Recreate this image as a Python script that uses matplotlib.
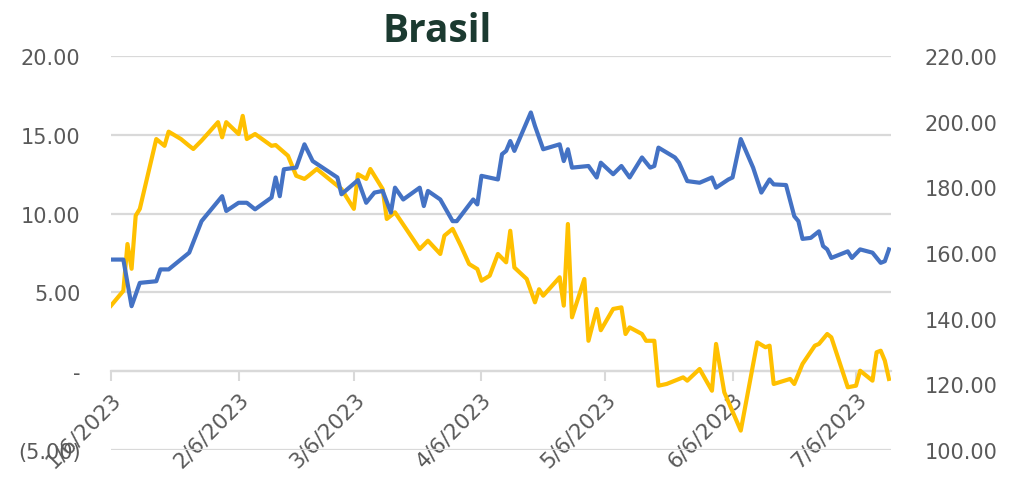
import matplotlib
matplotlib.use("Agg")
import matplotlib.pyplot as plt
import matplotlib.dates as mdates
from matplotlib.ticker import FuncFormatter, MultipleLocator
import numpy as np
import pandas as pd

start = pd.Timestamp("2023-01-06")

# yellow series (left axis) - days after 1/6/2023 and values
yellow_day = [0, 3, 4, 5, 6, 7, 11, 13, 14, 17, 19, 20, 22, 26, 27, 28, 31, 32, 33, 35,
              39, 40, 43, 45, 47, 48, 50, 54, 56, 59, 60, 62, 63, 66, 67, 69, 75, 77, 80, 81,
              83, 85, 87, 89, 90, 92, 94, 96, 97, 98, 101, 103, 104, 105, 109, 110, 111, 112,
              115, 116, 118, 119, 122, 124, 125, 126, 129, 130, 132, 133, 135, 139, 140, 143,
              146, 147, 149, 153, 157, 159, 160, 161, 165, 166, 168, 171, 172, 174, 175, 179,
              181, 182, 185, 186, 187, 188, 189]
yellow_val = [4.16, 5.1, 8.07, 6.5, 9.87, 10.3, 14.73, 14.3, 15.2, 14.73, 14.3, 14.1, 14.63,
              15.8, 14.84, 15.8, 15.05, 16.2, 14.73, 15.05, 14.3, 14.35, 13.67, 12.4, 12.2,
              12.4, 12.83, 11.98, 11.56, 10.3, 12.5, 12.2, 12.83, 11.56, 9.66, 10.08, 7.75,
              8.28, 7.44, 8.6, 9.03, 7.96, 6.8, 6.48, 5.74, 6.06, 7.44, 6.91, 8.91, 6.58, 5.85,
              4.37, 5.2, 4.79, 5.96, 4.16, 9.34, 3.42, 5.85, 1.93, 3.95, 2.6, 3.95, 4.05, 2.36,
              2.78, 2.36, 1.93, 1.93, -0.92, -0.81, -0.39, -0.6, 0.14, -1.24, 1.73, -1.34,
              -3.77, 1.83, 1.52, 1.62, -0.81, -0.49, -0.81, 0.46, 1.62, 1.73, 2.36, 2.15,
              -1.02, -0.92, 0.03, -0.6, 1.2, 1.3, 0.67, -0.49]

# blue series (right axis)
blue_day = [0, 3, 5, 7, 11, 12, 14, 19, 22, 27, 28, 31, 33, 35, 39, 40, 41, 42, 45, 47, 49,
            55, 56, 60, 62, 64, 66, 68, 69, 71, 75, 76, 77, 80, 83, 84, 88, 89, 90, 94, 95,
            96, 97, 98, 102, 103, 105, 109, 110, 111, 112, 116, 118, 119, 122, 124, 126, 129,
            131, 132, 133, 137, 138, 140, 143, 146, 147, 150, 151, 153, 156, 158, 160, 161,
            164, 166, 167, 168, 170, 172, 173, 174, 175, 179, 180, 182, 185, 187, 188, 189]
blue_val = [158.0, 158.0, 143.8, 150.9, 151.4, 155.0, 155.0, 160.1, 169.7, 177.3, 172.8,
            175.3, 175.3, 173.3, 176.9, 183.0, 177.3, 185.5, 186.0, 193.1, 188.0, 183.0, 177.9,
            182.2, 175.3, 178.4, 178.9, 172.3, 179.9, 176.3, 179.9, 174.3, 178.9, 176.3, 169.7,
            169.7, 176.3, 174.8, 183.5, 182.4, 190.1, 191.1, 194.1, 191.1, 202.8, 198.7, 191.6,
            193.1, 188.0, 191.6, 186.0, 186.5, 183.0, 187.5, 184.0, 186.5, 183.0, 189.1, 186.0,
            186.5, 192.1, 189.1, 187.5, 181.9, 181.4, 183.0, 179.9, 182.4, 183.0, 194.7, 186.0,
            178.4, 182.4, 180.9, 180.7, 171.2, 169.7, 164.3, 164.6, 166.6, 162.1, 161.1, 158.5,
            160.5, 158.5, 161.1, 160.1, 157.0, 157.5, 161.1]

tick_dates = ["2023-01-06", "2023-02-06", "2023-03-06", "2023-04-06",
              "2023-05-06", "2023-06-06", "2023-07-06"]

# plain float x (matplotlib date numbers), no unit converter on the axis
yellow_x = mdates.date2num((start + pd.to_timedelta(yellow_day, unit="D")).values)
blue_x = mdates.date2num((start + pd.to_timedelta(blue_day, unit="D")).values)
tick_x = mdates.date2num(pd.to_datetime(tick_dates).values)
tick_lbl = ["%d/%d/%d" % (d.month, d.day, d.year) for d in pd.to_datetime(tick_dates)]

txt = "#595959"
grid = "#d9d9d9"

fig = plt.figure(figsize=(10.12, 4.81), dpi=100)
ax = fig.add_axes([111 / 1012, 1 - 451 / 481, 780 / 1012, 394 / 481])
ax.set_ylim(-5, 20)
ax.set_xlim(yellow_x[0], yellow_x[0] + 189.5)

# gridlines, same way as the plain test that showed them
for yv in [-5, 0, 5, 10, 15, 20]:
    ax.axhline(yv, color=grid, lw=1.6)

ax2 = ax.twinx()
ax2.patch.set_visible(False)
ax2.set_ylim(100, 220)

ax.plot(yellow_x, yellow_val, color="#FFC000", lw=3.0, solid_joinstyle="round", zorder=3)
ax2.plot(blue_x, blue_val, color="#4472C4", lw=3.0, solid_joinstyle="round", zorder=4)
ax2.set_xlim(yellow_x[0], yellow_x[0] + 189.5)

ax.yaxis.set_major_locator(MultipleLocator(5))
def acct(v, pos):
    if abs(v) < 1e-9:
        return "-"
    if v < 0:
        return "(%.2f)" % abs(v)
    return "%.2f" % v
ax.yaxis.set_major_formatter(FuncFormatter(acct))
ax2.yaxis.set_major_locator(MultipleLocator(20))
ax2.yaxis.set_major_formatter(FuncFormatter(lambda v, p: "%.2f" % v))

ax.set_xticks(tick_x)
ax.set_xticklabels(tick_lbl)

for a in (ax, ax2):
    for s in ("top", "right", "left", "bottom"):
        a.spines[s].set_visible(False)
ax.spines["bottom"].set_visible(True)
ax.spines["bottom"].set_position(("data", 0))
ax.spines["bottom"].set_color(grid)
ax.spines["bottom"].set_linewidth(1.6)

ax.tick_params(axis="x", direction="out", length=7, width=1.5, color=grid,
               labelsize=15.5, labelcolor=txt, pad=5, labelrotation=45)
ax.tick_params(axis="y", length=0, labelsize=15, labelcolor=txt, pad=22)
ax2.tick_params(axis="y", length=0, labelsize=15, labelcolor=txt, pad=24)
for lab in ax.get_xticklabels():
    lab.set_ha("right")
    lab.set_va("top")
    lab.set_rotation_mode("anchor")

fig.text(437 / 1012, 1 - 32 / 481, "Brasil", ha="center", va="center",
         fontsize=28, fontweight="bold", color="#1b3a30", family="Open Sans")

fig.savefig("out.png", dpi=100)
